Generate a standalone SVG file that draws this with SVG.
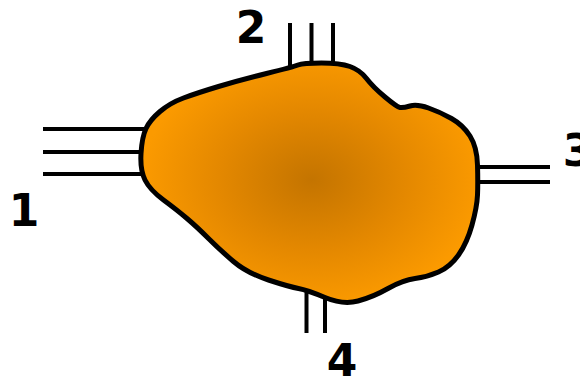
<svg xmlns="http://www.w3.org/2000/svg" width="580" height="377" viewBox="0 0 580 377">
<style>
.ln{stroke:#000;stroke-width:4;fill:none}
.lbl{font-family:"DejaVu Sans",sans-serif;font-weight:bold;font-size:44px;fill:#000;text-anchor:middle}
</style>
<defs>
<radialGradient id="g" cx="312" cy="180" r="170" gradientUnits="userSpaceOnUse" gradientTransform="translate(312 180) scale(1 0.75) translate(-312 -180)">
<stop offset="0" stop-color="#c47400"/>
<stop offset="0.55" stop-color="#e48800"/>
<stop offset="1" stop-color="#fb9a00"/>
</radialGradient>
</defs>
<g id="connectors">
<line class="ln" x1="43" y1="129" x2="150" y2="129"/>
<line class="ln" x1="43" y1="152" x2="150" y2="152"/>
<line class="ln" x1="43" y1="174" x2="150" y2="174"/>
<line class="ln" x1="290" y1="23" x2="290" y2="72"/>
<line class="ln" x1="311.5" y1="23" x2="311.5" y2="70"/>
<line class="ln" x1="333" y1="23" x2="333" y2="70"/>
<line class="ln" x1="470" y1="167" x2="550" y2="167"/>
<line class="ln" x1="470" y1="182" x2="550" y2="182"/>
<line class="ln" x1="306.5" y1="282" x2="306.5" y2="333"/>
<line class="ln" x1="325" y1="285" x2="325" y2="333"/>
</g>
<g id="blob">
<path d="M183.5,98 Q197,93 218.5,86.5 Q240,80 266.5,73.5 Q293,67 298,65 Q303,63 321.5,63 Q340,63 350,66.5 Q360,70 366.5,78.5 Q373,87 385,97 Q397,107 400,107.5 Q403,108 410,106 Q417,104 428.5,108 Q440,112 451.5,118.5 Q463,125 470,136 Q477,147 477.5,165 Q478,183 477.5,195 Q477,207 472,225 Q467,243 458.5,255 Q450,267 438.5,272 Q427,277 415,278.5 Q403,280 388,288.5 Q373,297 358,301 Q343,305 325,297.5 Q307,290 298.5,288.5 Q290,287 268.5,280 Q247,273 233.5,261.5 Q220,250 208.5,238.5 Q197,227 187,218.5 Q177,210 163.5,200 Q150,190 145,180 Q140,170 141,153.5 Q142,137 146,128.5 Q150,120 160,111.5 Q170,103 183.5,98 Z" fill="url(#g)" stroke="#000" stroke-width="5" stroke-linejoin="round"/>
</g>
<g id="labels">
<text class="lbl" x="24" y="226">1</text>
<text class="lbl" x="251" y="43">2</text>
<text class="lbl" x="578" y="166">3</text>
<text class="lbl" x="342" y="376">4</text>
</g>
</svg>
